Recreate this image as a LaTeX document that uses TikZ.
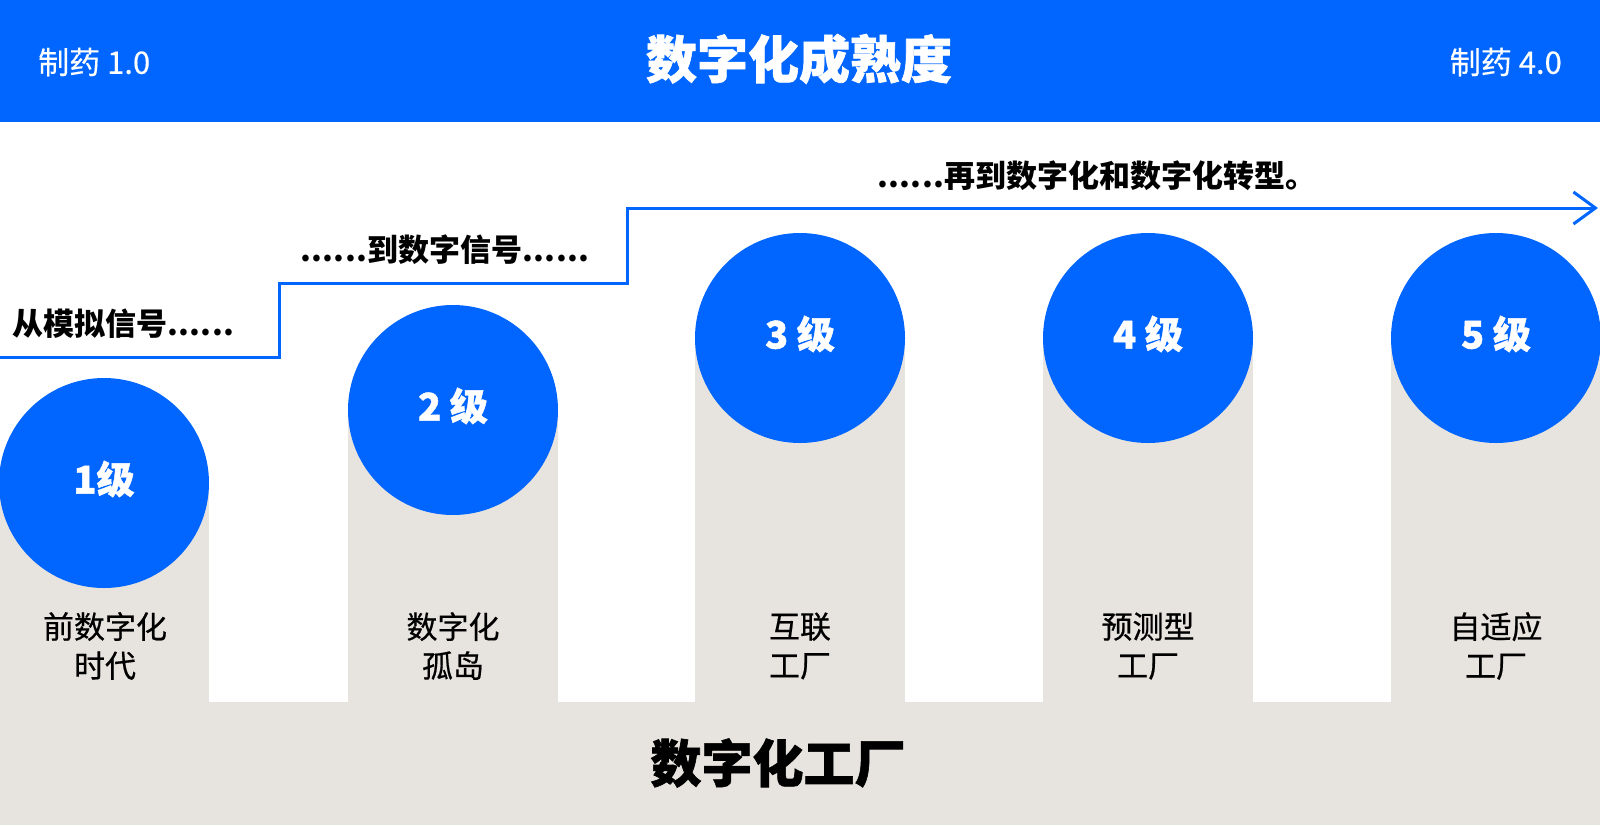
\documentclass[tikz,border=0pt]{standalone}
\usepackage{fontspec}
\setmainfont{Noto Sans CJK SC}
\newfontfamily\heavyfam{Noto Sans CJK SC}[BoldFeatures={FakeBold=1.2}]
\newfontfamily\mediumfam{Noto Sans CJK SC}[FakeBold=0.5]
\newfontfamily\semifam{Noto Sans CJK SC}[FakeBold=0.3]
\usetikzlibrary{arrows.meta}
\definecolor{mblue}{RGB}{0,102,255}
\definecolor{mbeige}{RGB}{231,227,222}
\newcommand\dotrun{\makebox[11.2pt][c]{.}\makebox[11.2pt][c]{.}\makebox[11.2pt][c]{.}\makebox[11.2pt][c]{.}\makebox[11.2pt][c]{.}\makebox[11.2pt][c]{.}}
\tikzset{
  lvlcircle/.style={circle,fill=mblue,minimum size=210pt,inner sep=0pt},
  lvltext/.style={text=white,font=\fontsize{38}{42}\heavyfam\bfseries,inner sep=0pt},
  collabel/.style={align=center,font=\fontsize{31}{39}\mediumfam,inner sep=0pt,text=black},
  steptext/.style={font=\fontsize{31}{36}\selectfont\bfseries,inner sep=0pt,anchor=west,text=black},
  stepline/.style={draw=mblue,line width=3pt},
  toplabel/.style={text=white,font=\fontsize{31}{36}\semifam,inner sep=0pt},
  bigtitle/.style={font=\fontsize{51}{56}\heavyfam\bfseries,inner sep=0pt}
}
\begin{document}
\begin{tikzpicture}[x=1pt,y=-1pt]
\useasboundingbox (0,0) rectangle (1600,825);
\fill[white] (0,0) rectangle (1600,825);
% top bar
\fill[mblue] (0,0) rectangle (1600,122);
\node[toplabel,anchor=west] (pharma1) at (38,62) {制药 1.0};
\node[toplabel,anchor=east] (pharma4) at (1562,62) {制药 4.0};
\node[bigtitle,text=white] (title) at (799,59) {数字化成熟度};
% beige base
\fill[mbeige] (0,702) rectangle (1600,825);
\fill[mbeige] (-1,483) rectangle (209,702);
\fill[mbeige] (348,410) rectangle (558,702);
\fill[mbeige] (695,338) rectangle (905,702);
\fill[mbeige] (1043,338) rectangle (1253,702);
\fill[mbeige] (1391,338) rectangle (1601,702);
% circles
\node[lvlcircle] (c1) at (104,483) {};
\node[lvlcircle] (c2) at (453,410) {};
\node[lvlcircle] (c3) at (800,338) {};
\node[lvlcircle] (c4) at (1148,338) {};
\node[lvlcircle] (c5) at (1496,338) {};
\node[lvltext] (t1) at (104,479) {1级};
\node[lvltext] (t2) at (453,406) {2 级};
\node[lvltext] (t3) at (800,334) {3 级};
\node[lvltext] (t4) at (1148,334) {4 级};
\node[lvltext] (t5) at (1496,334) {5 级};
% column labels
\node[collabel] (l1) at (105,646) {前数字化\\时代};
\node[collabel] (l2) at (453,646) {数字化\\孤岛};
\node[collabel] (l3) at (800,646) {互联\\工厂};
\node[collabel] (l4) at (1148,646) {预测型\\工厂};
\node[collabel] (l5) at (1496,646) {自适应\\工厂};
\node[bigtitle,text=black] (bottom) at (778,763) {数字化工厂};
% step line
\coordinate (s0) at (0,357);
\coordinate (s1) at (279,357);
\coordinate (s2) at (279,283);
\coordinate (s3) at (627,283);
\coordinate (s4) at (627,208);
\coordinate (s5) at (1598,208);
\draw[stepline,-{Straight Barb[length=22pt,width=32pt,line width=3pt]}] (s0) -- (s1) -- (s2) -- (s3) -- (s4) -- (s5);
\node[steptext] (a1) at (12,324) {从模拟信号\dotrun};
\node[steptext] (a2) at (300,250) {\dotrun 到数字信号\dotrun};
\node[steptext] (a3) at (877,176) {\dotrun 再到数字化和数字化转型。};
\end{tikzpicture}
\end{document}
